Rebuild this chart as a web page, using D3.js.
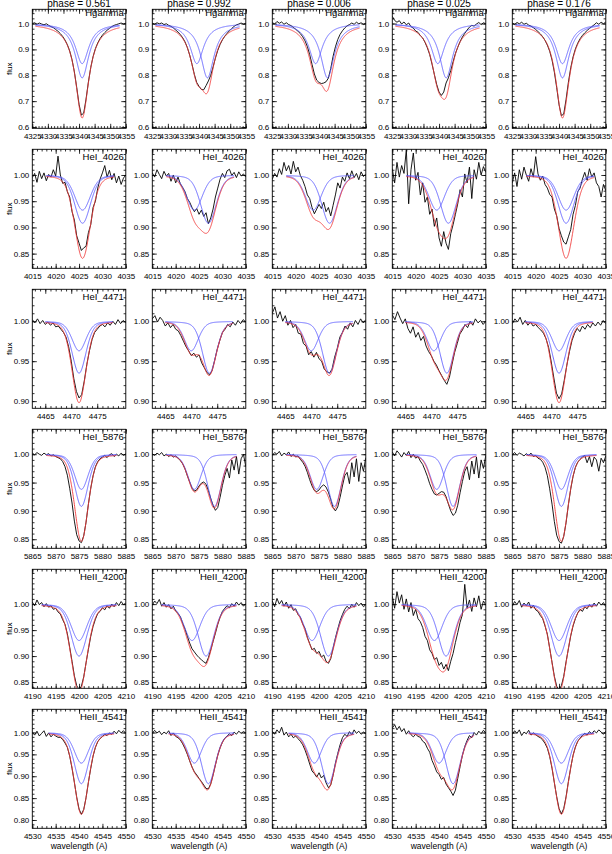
<!DOCTYPE html>
<html>
<head>
<meta charset="utf-8">
<script src="https://cdn.jsdelivr.net/npm/d3@7/dist/d3.min.js"></script>
<style>
  body { margin: 0; background: #fff; }
  svg { display: block; }
</style>
</head>
<body>
<div id="chart"></div>
<script>
var phases = ["0.561", "0.992", "0.006", "0.025", "0.176"];
var lineNames = ["Hgamma", "HeI_4026", "HeI_4471", "HeI_5876", "HeII_4200", "HeII_4541"];

// axis ranges and ticks, one entry per spectral line (row)
var waveRange = [[4325, 4355], [4015, 4035], [4462.5, 4480.5], [5865, 5885], [4190, 4210], [4530, 4550]];
var fluxRange = [[0.595, 1.055], [0.822, 1.049], [0.891, 1.04], [0.834, 1.044], [0.838, 1.067], [0.781, 1.053]];
var waveTicks = [
  [4325, 4330, 4335, 4340, 4345, 4350, 4355],
  [4015, 4020, 4025, 4030, 4035],
  [4465, 4470, 4475],
  [5865, 5870, 5875, 5880, 5885],
  [4190, 4195, 4200, 4205, 4210],
  [4530, 4535, 4540, 4545, 4550]
];
var fluxTicks = [
  [0.6, 0.7, 0.8, 0.9, 1.0],
  [0.85, 0.90, 0.95, 1.00],
  [0.90, 0.95, 1.00],
  [0.85, 0.90, 0.95, 1.00],
  [0.85, 0.90, 0.95, 1.00],
  [0.80, 0.85, 0.90, 0.95, 1.00]
];
var fluxTickFormat = [".1f", ".2f", ".2f", ".2f", ".2f", ".2f"];
var waveMinorStep = [1, 1, 1, 1, 1, 1];
var fluxMinorStep = [0.02, 0.01, 0.01, 0.01, 0.01, 0.01];

// two-component fit: wavelength span of the model, line width, lorentz share
var fitRange = [[4326, 4353], [4018, 4032.5], [4465, 4478], [5868, 5883], [4192, 4208], [4533.5, 4547.5]];
var lineFwhm = [5.2, 4.0, 3.2, 3.4, 4.0, 3.6];
var lorentzFrac = [1.0, 0.3, 0.3, 0.3, 0.3, 0.3];

// component A (shallower) and B (deeper): centres per phase, depth per line
var compACenter = [
  [4341.0, 4339.3, 4338.9, 4339.6, 4341.1],
  [4025.75, 4024.0, 4023.75, 4024.5, 4026.5],
  [4471.5, 4470.0, 4470.0, 4470.5, 4471.5],
  [5875.5, 5874.0, 5874.5, 5874.5, 5875.5],
  [4200.0, 4198.5, 4198.5, 4199.0, 4200.0],
  [4540.5, 4539.0, 4539.0, 4540.0, 4540.5]
];
var compBCenter = [
  [4341.0, 4342.7, 4342.7, 4342.3, 4341.1],
  [4025.75, 4027.0, 4027.25, 4027.0, 4026.5],
  [4471.5, 4473.5, 4473.5, 4473.0, 4471.5],
  [5875.5, 5878.3, 5878.3, 5878.0, 5875.5],
  [4200.0, 4201.5, 4202.0, 4201.5, 4200.0],
  [4540.5, 4542.0, 4542.0, 4543.0, 4540.5]
];
var compADepth = [0.155, 0.067, 0.037, 0.062, 0.07, 0.07];
var compBDepth = [0.21, 0.092, 0.065, 0.092, 0.10, 0.117];

// observed spectra, flux in units of 0.001, sampled from waveRange[r][0] every obsStep[r]
var obsStep = [0.75, 0.5, 0.5, 0.5, 0.5, 0.5];

var obsHgamma = [
  [1000,1003,997,1002,998,995,999,993,988,984,977,970,961,950,936,918,894,860,813,753,688,646,654,708,774,830,872,903,925,942,955,965,974,981,988,993,996,999,1002,998,1001],
  [1001,997,1003,999,1002,996,999,993,989,983,975,967,957,945,929,907,878,842,803,772,757,745,744,760,778,800,832,866,896,919,937,951,962,972,981,989,995,998,1002,997,1000],
  [1004,998,1008,1001,1006,997,1003,996,992,985,978,970,961,949,933,911,880,842,805,781,772,768,770,775,789,826,873,910,938,958,972,983,991,996,1002,997,1005,999,1003,996,1001],
  [1028,1012,1005,1011,998,1006,995,1002,988,982,971,966,953,944,927,906,880,843,803,764,735,722,735,770,790,818,852,884,908,930,948,962,975,986,993,990,998,1004,996,1003,999],
  [1002,996,1004,999,1005,997,1001,994,990,984,977,969,960,949,935,917,893,859,812,752,686,644,650,706,773,829,871,902,924,941,954,964,973,981,988,995,1003,997,1005,999,1006]
];
var obsHeI4026 = [
  [995,1003,986,1007,993,1004,989,1001,996,1010,998,1036,1000,984,986,968,958,930,914,884,870,856,861,864,890,905,938,950,975,992,1004,1018,996,1009,991,1003,985,998,982,994,1000],
  [1004,996,1010,1001,993,1007,998,1003,988,1000,985,996,983,976,968,955,948,938,930,936,925,933,921,928,907,918,935,958,975,992,1003,995,1008,1011,999,1005,995,1006,998,1002,996],
  [992,1003,996,1012,1001,1024,1008,1018,1002,1026,1006,1015,999,990,978,962,955,938,926,935,944,936,948,930,938,922,942,962,985,975,996,988,1004,993,1008,995,1003,991,1006,997,1002],
  [1012,985,1024,996,1018,1003,1048,945,1010,1042,990,1005,962,985,948,958,925,935,902,918,880,864,892,870,858,888,905,925,945,972,958,1002,985,1015,955,1010,992,1024,1000,1016,1005],
  [985,1004,978,1010,992,1015,1000,988,1012,996,1035,1002,990,998,982,975,963,958,935,922,898,884,872,868,882,896,925,942,968,975,992,1005,990,1012,996,1004,985,978,958,982,970]
];
var obsHeI4471 = [
  [1002,998,1003,997,1001,996,999,995,998,993,994,990,986,980,968,950,928,912,904,908,925,946,963,977,986,990,994,996,993,998,995,1000,996,1002,997,1001,998],
  [1003,1007,999,1005,1001,994,998,992,996,990,988,982,975,968,963,957,960,955,958,948,942,936,933,938,951,965,976,986,990,996,993,999,995,1001,997,1002,999],
  [1010,1018,1004,1012,1000,1007,995,1001,992,996,985,984,972,969,958,962,955,961,953,950,940,937,935,940,955,966,980,986,994,990,998,993,1001,996,1003,998,1002],
  [1008,1002,1012,1004,997,1003,991,985,993,980,986,976,981,969,962,957,950,945,938,932,926,921,930,946,961,972,984,989,996,992,1000,995,1003,998,1001,996,1000],
  [997,1003,999,1005,996,1001,995,999,994,996,992,989,985,978,967,949,929,910,903,909,926,945,962,976,985,991,987,994,990,996,992,998,994,999,995,1001,997]
];
var obsHeI5876 = [
  [1002,999,1003,1000,998,1002,999,1001,997,999,996,994,992,987,978,963,940,914,882,858,847,844,856,880,912,940,962,978,987,992,995,998,994,999,1001,996,1000,997,1002,998,1001],
  [1001,998,1002,999,1003,997,1000,996,999,995,997,993,989,983,974,962,951,940,935,937,944,949,951,947,936,922,910,901,906,924,945,962,975,958,990,972,996,965,992,1000,978],
  [998,1003,1000,1005,997,1002,999,1004,996,1000,995,997,991,986,979,968,955,944,936,934,937,943,946,942,933,920,906,900,907,924,944,962,968,948,985,960,992,952,985,970,994],
  [1004,997,1006,1001,995,1003,998,1005,994,1000,993,996,988,982,972,961,948,938,930,928,931,934,933,925,912,900,892,896,910,932,952,970,978,955,988,965,995,958,990,975,998],
  [999,1003,998,1002,1000,997,1001,998,1002,996,998,993,991,986,977,962,939,912,881,857,846,843,855,879,911,939,961,977,986,991,995,998,985,996,978,995,990,970,993,985,997]
];
var obsHeII4200 = [
  [1004,997,1008,999,1003,995,1001,994,997,990,992,985,981,970,961,943,917,890,862,843,836,842,860,887,913,938,957,971,982,986,993,989,997,992,1000,995,1003,997,1005,999,1002],
  [998,1006,1001,1009,996,1003,994,999,991,996,987,982,976,963,952,938,925,914,908,902,897,893,889,886,897,912,928,944,961,975,986,992,997,993,1001,996,1004,998,1003,996,1001],
  [1006,995,1011,1000,1007,996,1004,992,999,988,991,980,975,962,953,936,924,912,915,905,909,898,902,890,886,895,915,935,952,968,980,990,996,991,1000,994,1003,997,1002,995,999],
  [1015,992,1024,1002,1018,990,1010,985,1003,978,990,972,966,955,938,930,912,905,893,897,882,888,875,884,872,890,905,926,945,965,980,1038,992,1008,986,1012,995,1016,990,1006,998],
  [996,1005,999,1007,994,1002,997,1004,992,998,989,986,978,972,958,942,915,888,861,842,835,843,861,889,914,939,958,972,983,990,986,995,991,999,994,1002,996,1004,998,1003,995]
];
var obsHeII4541 = [
  [1000,994,1003,992,998,1004,991,999,990,996,992,989,989,984,976,966,946,918,886,852,825,813,824,851,886,918,946,966,979,986,991,996,993,999,996,1003,997,1005,999,1004,998],
  [998,1005,999,1003,995,1001,997,1004,993,999,991,988,983,974,963,950,935,921,910,903,895,888,880,872,871,883,903,926,948,965,978,987,992,997,993,1001,996,1003,998,1002,999],
  [1003,996,1006,999,1012,994,1001,990,996,988,992,986,980,972,960,945,928,912,906,898,908,896,902,885,874,880,902,930,952,972,988,996,991,1002,995,1006,998,1003,996,1001,997],
  [1010,1018,1006,1014,1002,1009,996,1004,995,990,996,991,989,980,976,964,955,936,924,910,904,893,897,882,874,866,856,868,895,922,948,968,982,993,988,1000,994,1003,997,1005,999],
  [996,1004,998,1006,993,1001,997,1005,994,999,995,991,988,983,975,964,945,918,885,853,826,814,826,853,888,920,948,967,980,987,993,998,994,1002,997,1004,999,1006,1001,996,1003]
];
var obsByLine = [obsHgamma, obsHeI4026, obsHeI4471, obsHeI5876, obsHeII4200, obsHeII4541];

var W = 612, H = 854;
var panelW = 93.5, panelH = 119;
var left0 = 32.3, top0 = 9.3, colStep = 120, rowStep = 140;
var fontFamily = "'Liberation Sans', Arial, Helvetica, sans-serif";
var compColor = "#5c5cff", sumColor = "#f03a3a";

var profile = function(dx, fwhm, eta) {
  var u = dx / fwhm;
  var gauss = Math.exp(-4 * Math.LN2 * u * u);
  var lorentz = 1 / (1 + 4 * u * u);
  return eta * lorentz + (1 - eta) * gauss;
};

var minorValues = function(domain, step) {
  var lo = Math.ceil(domain[0] / step - 1e-6), hi = Math.floor(domain[1] / step + 1e-6);
  return d3.range(lo, hi + 1).map(function(i) { return +(i * step).toFixed(4); });
};

var styleAxis = function(sel, size) {
  sel.select(".domain").remove();
  sel.selectAll("line").attr("stroke", "#000").attr("stroke-width", 0.8);
  sel.selectAll("text").attr("fill", "#000").attr("font-size", size).attr("font-family", fontFamily);
};

var svg = d3.select("#chart").append("svg")
  .attr("width", W)
  .attr("height", H)
  .style("background", "#fff");

var drawPanel = function(r, c) {
  var g = svg.append("g")
    .attr("transform", "translate(" + (left0 + c * colStep) + "," + (top0 + r * rowStep) + ")");

  var x = d3.scaleLinear().domain(waveRange[r]).range([0, panelW]);
  var y = d3.scaleLinear().domain(fluxRange[r]).range([panelH, 0]);

  var clipId = "clip-" + r + "-" + c;
  g.append("clipPath").attr("id", clipId)
    .append("rect").attr("width", panelW).attr("height", panelH);
  var plot = g.append("g").attr("clip-path", "url(#" + clipId + ")");

  var line = d3.line()
    .x(function(d) { return x(d[0]); })
    .y(function(d) { return y(d[1]); });

  // observed spectrum
  var obs = obsByLine[r][c].map(function(v, i) {
    return [waveRange[r][0] + i * obsStep[r], v / 1000];
  });
  plot.append("path").datum(obs)
    .attr("fill", "none").attr("stroke", "#000").attr("stroke-width", 0.9)
    .attr("d", line);

  // fitted components and their sum
  var waves = d3.range(fitRange[r][0], fitRange[r][1] + 1e-6, 0.05);
  var cA = compACenter[r][c], cB = compBCenter[r][c];
  var dA = compADepth[r], dB = compBDepth[r];
  var f = lineFwhm[r], eta = lorentzFrac[r];
  var compA = waves.map(function(w) { return [w, 1 - dA * profile(w - cA, f, eta)]; });
  var compB = waves.map(function(w) { return [w, 1 - dB * profile(w - cB, f, eta)]; });
  var total = waves.map(function(w) {
    return [w, 1 - dA * profile(w - cA, f, eta) - dB * profile(w - cB, f, eta)];
  });
  [compA, compB].forEach(function(comp) {
    plot.append("path").datum(comp)
      .attr("fill", "none").attr("stroke", compColor).attr("stroke-width", 0.9)
      .attr("d", line);
  });
  plot.append("path").datum(total)
    .attr("fill", "none").attr("stroke", sumColor).attr("stroke-width", 0.9)
    .attr("d", line);

  // axes: major and minor ticks pointing inward on all four sides
  var xMinor = minorValues(waveRange[r], waveMinorStep[r]);
  var yMinor = minorValues(fluxRange[r], fluxMinorStep[r]);

  g.append("g").attr("transform", "translate(0," + panelH + ")")
    .call(d3.axisBottom(x).tickValues(waveTicks[r]).tickSizeInner(-4.5).tickSizeOuter(0)
      .tickPadding(5).tickFormat(d3.format("d")))
    .call(styleAxis, 8);
  g.append("g").attr("transform", "translate(0," + panelH + ")")
    .call(d3.axisBottom(x).tickValues(xMinor).tickSizeInner(-2.2).tickSizeOuter(0).tickFormat(""))
    .call(styleAxis, 8);
  g.append("g")
    .call(d3.axisTop(x).tickValues(waveTicks[r]).tickSizeInner(-4.5).tickSizeOuter(0).tickFormat(""))
    .call(styleAxis, 8);
  g.append("g")
    .call(d3.axisTop(x).tickValues(xMinor).tickSizeInner(-2.2).tickSizeOuter(0).tickFormat(""))
    .call(styleAxis, 8);

  g.append("g")
    .call(d3.axisLeft(y).tickValues(fluxTicks[r]).tickSizeInner(-4.5).tickSizeOuter(0)
      .tickPadding(3).tickFormat(d3.format(fluxTickFormat[r])))
    .call(styleAxis, 8);
  g.append("g")
    .call(d3.axisLeft(y).tickValues(yMinor).tickSizeInner(-2.2).tickSizeOuter(0).tickFormat(""))
    .call(styleAxis, 8);
  g.append("g").attr("transform", "translate(" + panelW + ",0)")
    .call(d3.axisRight(y).tickValues(fluxTicks[r]).tickSizeInner(-4.5).tickSizeOuter(0).tickFormat(""))
    .call(styleAxis, 8);
  g.append("g").attr("transform", "translate(" + panelW + ",0)")
    .call(d3.axisRight(y).tickValues(yMinor).tickSizeInner(-2.2).tickSizeOuter(0).tickFormat(""))
    .call(styleAxis, 8);

  g.append("rect")
    .attr("width", panelW).attr("height", panelH)
    .attr("fill", "none").attr("stroke", "#000").attr("stroke-width", 0.9);

  // labels
  g.append("text")
    .attr("x", panelW - 2).attr("y", r === 0 ? 6.8 : 10.8)
    .attr("text-anchor", "end")
    .attr("font-family", fontFamily).attr("font-size", 9.5)
    .text(lineNames[r]);

  if (r === 0) {
    g.append("text")
      .attr("x", panelW / 2).attr("y", -2.5)
      .attr("text-anchor", "middle")
      .attr("font-family", fontFamily).attr("font-size", 10)
      .text("phase = " + phases[c]);
  }
  if (c === 0) {
    g.append("text")
      .attr("transform", "translate(-20.5," + (panelH / 2) + ") rotate(-90)")
      .attr("text-anchor", "middle")
      .attr("font-family", fontFamily).attr("font-size", 8)
      .text("flux");
  }
  if (r === lineNames.length - 1) {
    g.append("text")
      .attr("x", panelW / 2).attr("y", panelH + 20.4)
      .attr("text-anchor", "middle")
      .attr("font-family", fontFamily).attr("font-size", 8.5)
      .text("wavelength (A)");
  }
};

for (var r = 0; r < lineNames.length; r++) {
  for (var c = 0; c < phases.length; c++) {
    drawPanel(r, c);
  }
}
</script>
</body>
</html>
